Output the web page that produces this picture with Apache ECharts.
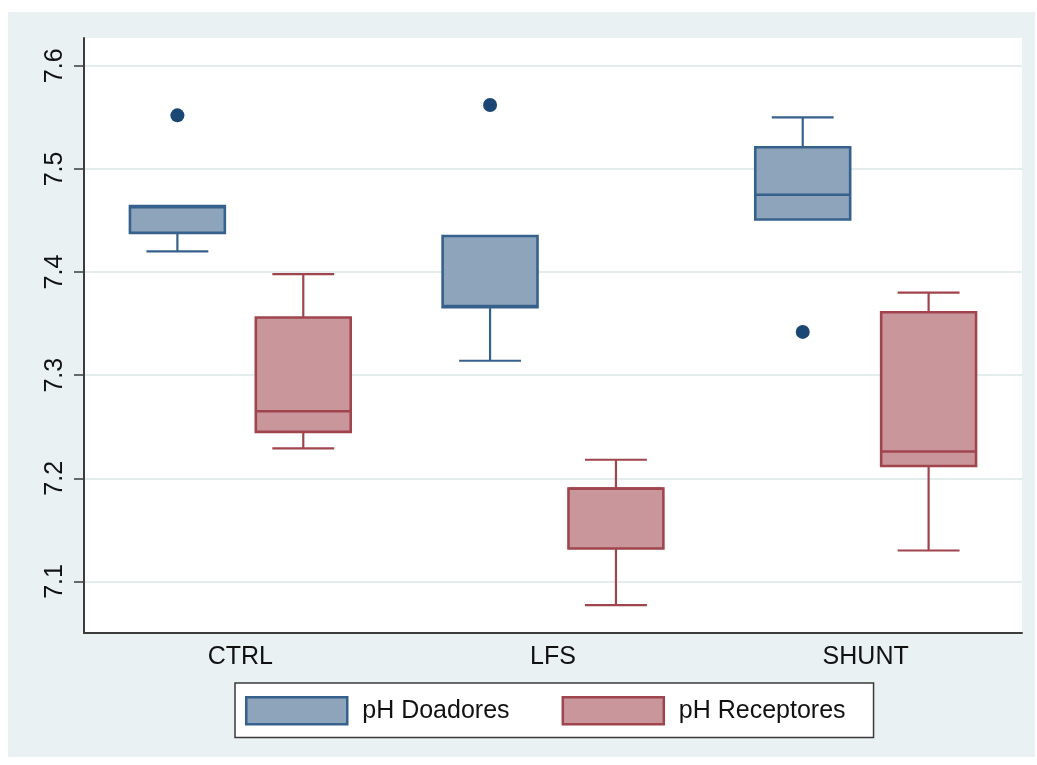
<!DOCTYPE html>
<html>
<head>
<meta charset="utf-8">
<script src="https://cdn.jsdelivr.net/npm/echarts@6/dist/echarts.min.js"></script>
<style>
html,body{margin:0;padding:0;background:#ffffff;}
#chart{width:1037px;height:765px;}
</style>
</head>
<body>
<div id="chart"></div>
<script>
// ---- data ----
const categories = ['CTRL', 'LFS', 'SHUNT'];
const seriesNames = ['pH Doadores', 'pH Receptores'];
// [min whisker, Q1, median, Q3, max whisker]
const doadores = [
  [7.420, 7.438, 7.463, 7.464, 7.464],
  [7.314, 7.366, 7.367, 7.435, 7.435],
  [7.451, 7.451, 7.475, 7.521, 7.550]
];
const receptores = [
  [7.229, 7.245, 7.265, 7.356, 7.398],
  [7.077, 7.132, 7.190, 7.190, 7.218],
  [7.130, 7.212, 7.226, 7.361, 7.380]
];
// [category index, value]
const outliersDoadores = [[0, 7.552], [1, 7.562], [2, 7.342]];
const yTicks = [7.1, 7.2, 7.3, 7.4, 7.5, 7.6];

// ---- styles ----
const blueFill = '#8ea4ba', blueStroke = '#36618c', blueDot = '#1b4775';
const redFill = '#c9979b', redStroke = '#a0454e';
const FONT = 'Liberation Sans, Arial, Helvetica, sans-serif';

function boxRender(offsetFrac, stroke, fill) {
  return function (params, api) {
    const cat = api.value(0);
    const band = api.size([1, 0])[0];
    const cx = api.coord([cat, api.value(3)])[0] + offsetFrac * band;
    const y = i => api.coord([cat, api.value(i)])[1];
    const bw = band * 0.3035, cw = band * 0.198;
    const yMin = y(1), yQ1 = y(2), yMed = y(3), yQ3 = y(4), yMax = y(5);
    const ls = { stroke: stroke, lineWidth: 2.2 };
    const ch = [];
    if (yQ3 - yMax > 0.5) {
      ch.push({ type: 'line', shape: { x1: cx, y1: yQ3, x2: cx, y2: yMax }, style: ls });
      ch.push({ type: 'line', shape: { x1: cx - cw / 2, y1: yMax, x2: cx + cw / 2, y2: yMax }, style: ls });
    }
    if (yMin - yQ1 > 0.5) {
      ch.push({ type: 'line', shape: { x1: cx, y1: yQ1, x2: cx, y2: yMin }, style: ls });
      ch.push({ type: 'line', shape: { x1: cx - cw / 2, y1: yMin, x2: cx + cw / 2, y2: yMin }, style: ls });
    }
    ch.push({ type: 'rect', shape: { x: cx - bw / 2, y: yQ3, width: bw, height: yQ1 - yQ3 },
      style: { fill: fill, stroke: stroke, lineWidth: 2.6 } });
    ch.push({ type: 'line', shape: { x1: cx - bw / 2, y1: yMed, x2: cx + bw / 2, y2: yMed },
      style: { stroke: stroke, lineWidth: 2.6 } });
    return { type: 'group', children: ch };
  };
}
function dotRender(offsetFrac, color) {
  return function (params, api) {
    const cat = api.value(0);
    const band = api.size([1, 0])[0];
    const p = api.coord([cat, api.value(1)]);
    return { type: 'circle', shape: { cx: p[0] + offsetFrac * band, cy: p[1], r: 7 }, style: { fill: color } };
  };
}

const chart = echarts.init(document.getElementById('chart'));
const option = {
  animation: false,
  backgroundColor: '#ffffff',
  graphic: [{
    type: 'rect', z: -10, silent: true,
    shape: { x: 8, y: 12, width: 1027, height: 745 },
    style: { fill: '#eaf1f3' }
  }],
  grid: {
    left: 84, right: 15, top: 38, bottom: 132,
    show: true, backgroundColor: '#ffffff', borderWidth: 0
  },
  legend: {
    left: 235, top: 683,
    padding: [13, 28, 12, 10],
    itemGap: 52,
    itemWidth: 101, itemHeight: 27,
    backgroundColor: '#ffffff',
    borderColor: '#3a3a3a', borderWidth: 1.5,
    textStyle: { fontFamily: FONT, fontSize: 25, color: '#111', padding: [0, 0, 0, 10] },
    data: [
      { name: seriesNames[0], icon: 'rect', itemStyle: { color: blueFill, borderColor: blueStroke, borderWidth: 2.5 } },
      { name: seriesNames[1], icon: 'rect', itemStyle: { color: redFill, borderColor: redStroke, borderWidth: 2.5 } }
    ]
  },
  xAxis: {
    type: 'category',
    data: categories,
    axisLine: { lineStyle: { color: '#3c3c3c', width: 2 } },
    axisTick: { show: false },
    splitLine: { show: false },
    axisLabel: { fontFamily: FONT, fontSize: 25, color: '#111', margin: 12 }
  },
  yAxis: {
    type: 'value',
    min: 7.05, max: 7.627,
    axisLine: { show: true, lineStyle: { color: '#3c3c3c', width: 2 } },
    axisTick: { show: true, length: 10, customValues: yTicks, lineStyle: { color: '#3c3c3c', width: 1.5 } },
    splitLine: { show: true, lineStyle: { color: '#e4eded', width: 2 } },
    axisLabel: {
      customValues: yTicks,
      rotate: 90,
      fontFamily: FONT, fontSize: 25, color: '#111',
      margin: 16,
      formatter: v => v.toFixed(1)
    }
  },
  series: [
    {
      name: seriesNames[0], type: 'custom',
      itemStyle: { color: blueFill, borderColor: blueStroke },
      encode: { x: 0, y: [1, 2, 3, 4, 5] },
      renderItem: boxRender(-0.2013, blueStroke, blueFill),
      data: doadores.map((d, i) => [i].concat(d))
    },
    {
      name: seriesNames[1], type: 'custom',
      itemStyle: { color: redFill, borderColor: redStroke },
      encode: { x: 0, y: [1, 2, 3, 4, 5] },
      renderItem: boxRender(0.2013, redStroke, redFill),
      data: receptores.map((d, i) => [i].concat(d))
    },
    {
      name: seriesNames[0], type: 'custom',
      encode: { x: 0, y: 1 },
      renderItem: dotRender(-0.2013, blueDot),
      data: outliersDoadores
    }
  ]
};
chart.setOption(option);
</script>
</body>
</html>
